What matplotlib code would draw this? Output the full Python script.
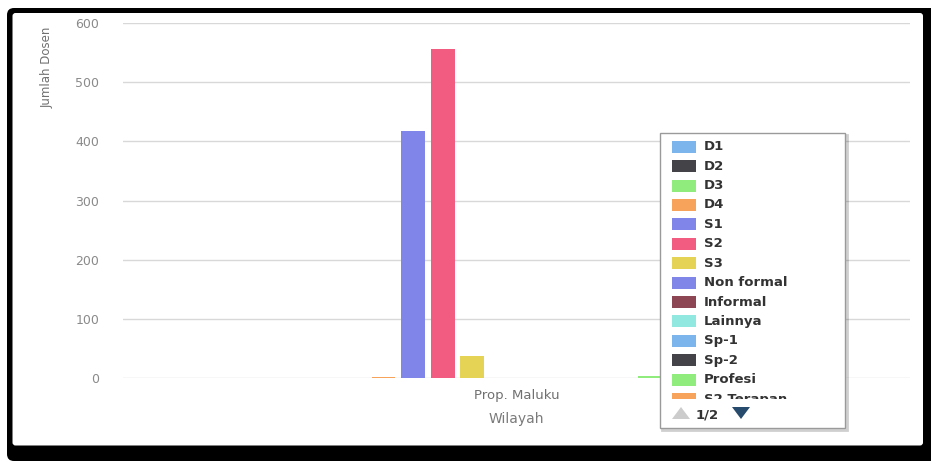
import matplotlib
matplotlib.use("Agg")
import matplotlib.pyplot as plt
from matplotlib.patches import FancyBboxPatch, Rectangle, Polygon
from matplotlib.transforms import Affine2D, Bbox, TransformedBbox

# ---------------- data ----------------
categories = ["Prop. Maluku"]
series_names = ["D1", "D2", "D3", "D4", "S1", "S2", "S3", "Non formal",
                "Informal", "Lainnya", "Sp-1", "Sp-2", "Profesi",
                "S2 Terapan", "S3 Terapan", "Sp-3"]
series_values = [0, 0, 0, 2, 417, 556, 36, 0, 0, 0, 0, 0, 3, 0, 0, 0]
palette = ["#7cb5ec", "#434348", "#90ed7d", "#f7a35c", "#8085e9",
           "#f15c80", "#e4d354", "#8085e8", "#8d4653", "#91e8e1"]
y_ticks = [0, 100, 200, 300, 400, 500, 600]
y_title = "Jumlah Dosen"
x_title = "Wilayah"
legend_page = "1/2"

# ---------------- figure ----------------
W, H = 931, 462
fig = plt.figure(figsize=(W / 100, H / 100), dpi=100)
fig.patch.set_facecolor("white")
PX = Affine2D().scale(1 / W, -1 / H).translate(0, 1) + fig.transFigure


def fx(x):
    return x / W


def fy(y):
    return 1 - y / H


# black frame + white panel
fig.patches.append(FancyBboxPatch((7, 8), 940 - 7, 461 - 8,
                                  boxstyle="round,pad=0,rounding_size=7",
                                  transform=PX, fc="black", ec="none", zorder=-10))
fig.patches.append(FancyBboxPatch((12.5, 13), 923 - 12.5, 445.5 - 13,
                                  boxstyle="round,pad=0,rounding_size=3",
                                  transform=PX, fc="white", ec="none", zorder=-9))

# ---------------- axes ----------------
left, right, top, bottom = 123, 910, 23.3, 377.7
ax = fig.add_axes([fx(left), fy(bottom), (right - left) / W, (bottom - top) / H])
ax.patch.set_alpha(0)
n = len(series_names)
group_pad = 0.2
slot = (1 - 2 * group_pad) / n
bar_w = slot * 0.8
for i, (name, val) in enumerate(zip(series_names, series_values)):
    xpos = -0.5 + group_pad + (i + 0.5) * slot
    ax.bar(xpos, val, bar_w, color=palette[i % len(palette)], linewidth=0, zorder=3)

ax.set_xlim(-0.5, 0.5)
ax.set_ylim(0, 600)
ax.set_yticks(y_ticks)
ax.set_yticklabels([str(v) for v in y_ticks])
ax.yaxis.grid(True, color="#d8d8d8", linewidth=1)
ax.set_axisbelow(True)
for s in ax.spines.values():
    s.set_visible(False)
ax.tick_params(axis="y", length=0, pad=17, labelsize=9, labelcolor="#8a8a8a")
ax.set_xticks([0])
ax.set_xticklabels(categories)
ax.tick_params(axis="x", length=0, pad=8, labelsize=9.5, labelcolor="#707070")

fig.text(fx(47), fy(67), y_title, rotation=90, ha="center", va="center",
         fontsize=8.5, color="#707070", family=["Liberation Sans Narrow", "DejaVu Sans"])
fig.text(fx(516), fy(419), x_title, ha="center", va="center",
         fontsize=10, color="#7a7a7a")

# ---------------- legend (paged, page 1) ----------------
lx0, ly0, lx1, ly1 = 660, 133, 845, 428
fig.patches.append(Rectangle((lx0 + 1.5, ly0 + 1.5), lx1 - lx0, ly1 - ly0,
                             transform=PX, fc="none", ec="#00000030", lw=2, zorder=5))
fig.patches.append(Rectangle((lx0, ly0), lx1 - lx0, ly1 - ly0,
                             transform=PX, fc="white", ec="#9a9a9a", lw=1, zorder=6))
clip_bb = TransformedBbox(Bbox.from_extents(fx(lx0), fy(398.5), fx(lx1), fy(ly0 + 2)),
                          fig.transFigure)
for k in range(14):
    yc = 146.7 + 19.42 * k
    r = Rectangle((672, yc - 6), 24, 12, transform=PX,
                  fc=palette[k % len(palette)], ec="none", zorder=7)
    r.set_clip_box(clip_bb)
    fig.patches.append(r)
    t = fig.text(fx(704), fy(yc), series_names[k], ha="left", va="center",
                 fontsize=9.5, fontweight="bold", color="#333333", zorder=8)
    t.set_clip_box(clip_bb)
    t.set_clip_on(True)

# pager arrows (shapes) and page text
fig.patches.append(Polygon([(672, 419), (690, 419), (681, 407)], closed=True,
                           transform=PX, fc="#cccccc", ec="none", zorder=8))
fig.patches.append(Polygon([(732, 407), (750, 407), (741, 419)], closed=True,
                           transform=PX, fc="#274b6d", ec="none", zorder=8))
fig.text(fx(696), fy(415), legend_page, ha="left", va="center", fontsize=9.5,
         fontweight="bold", color="#333333", zorder=8)

fig.savefig("out.png", dpi=100)
